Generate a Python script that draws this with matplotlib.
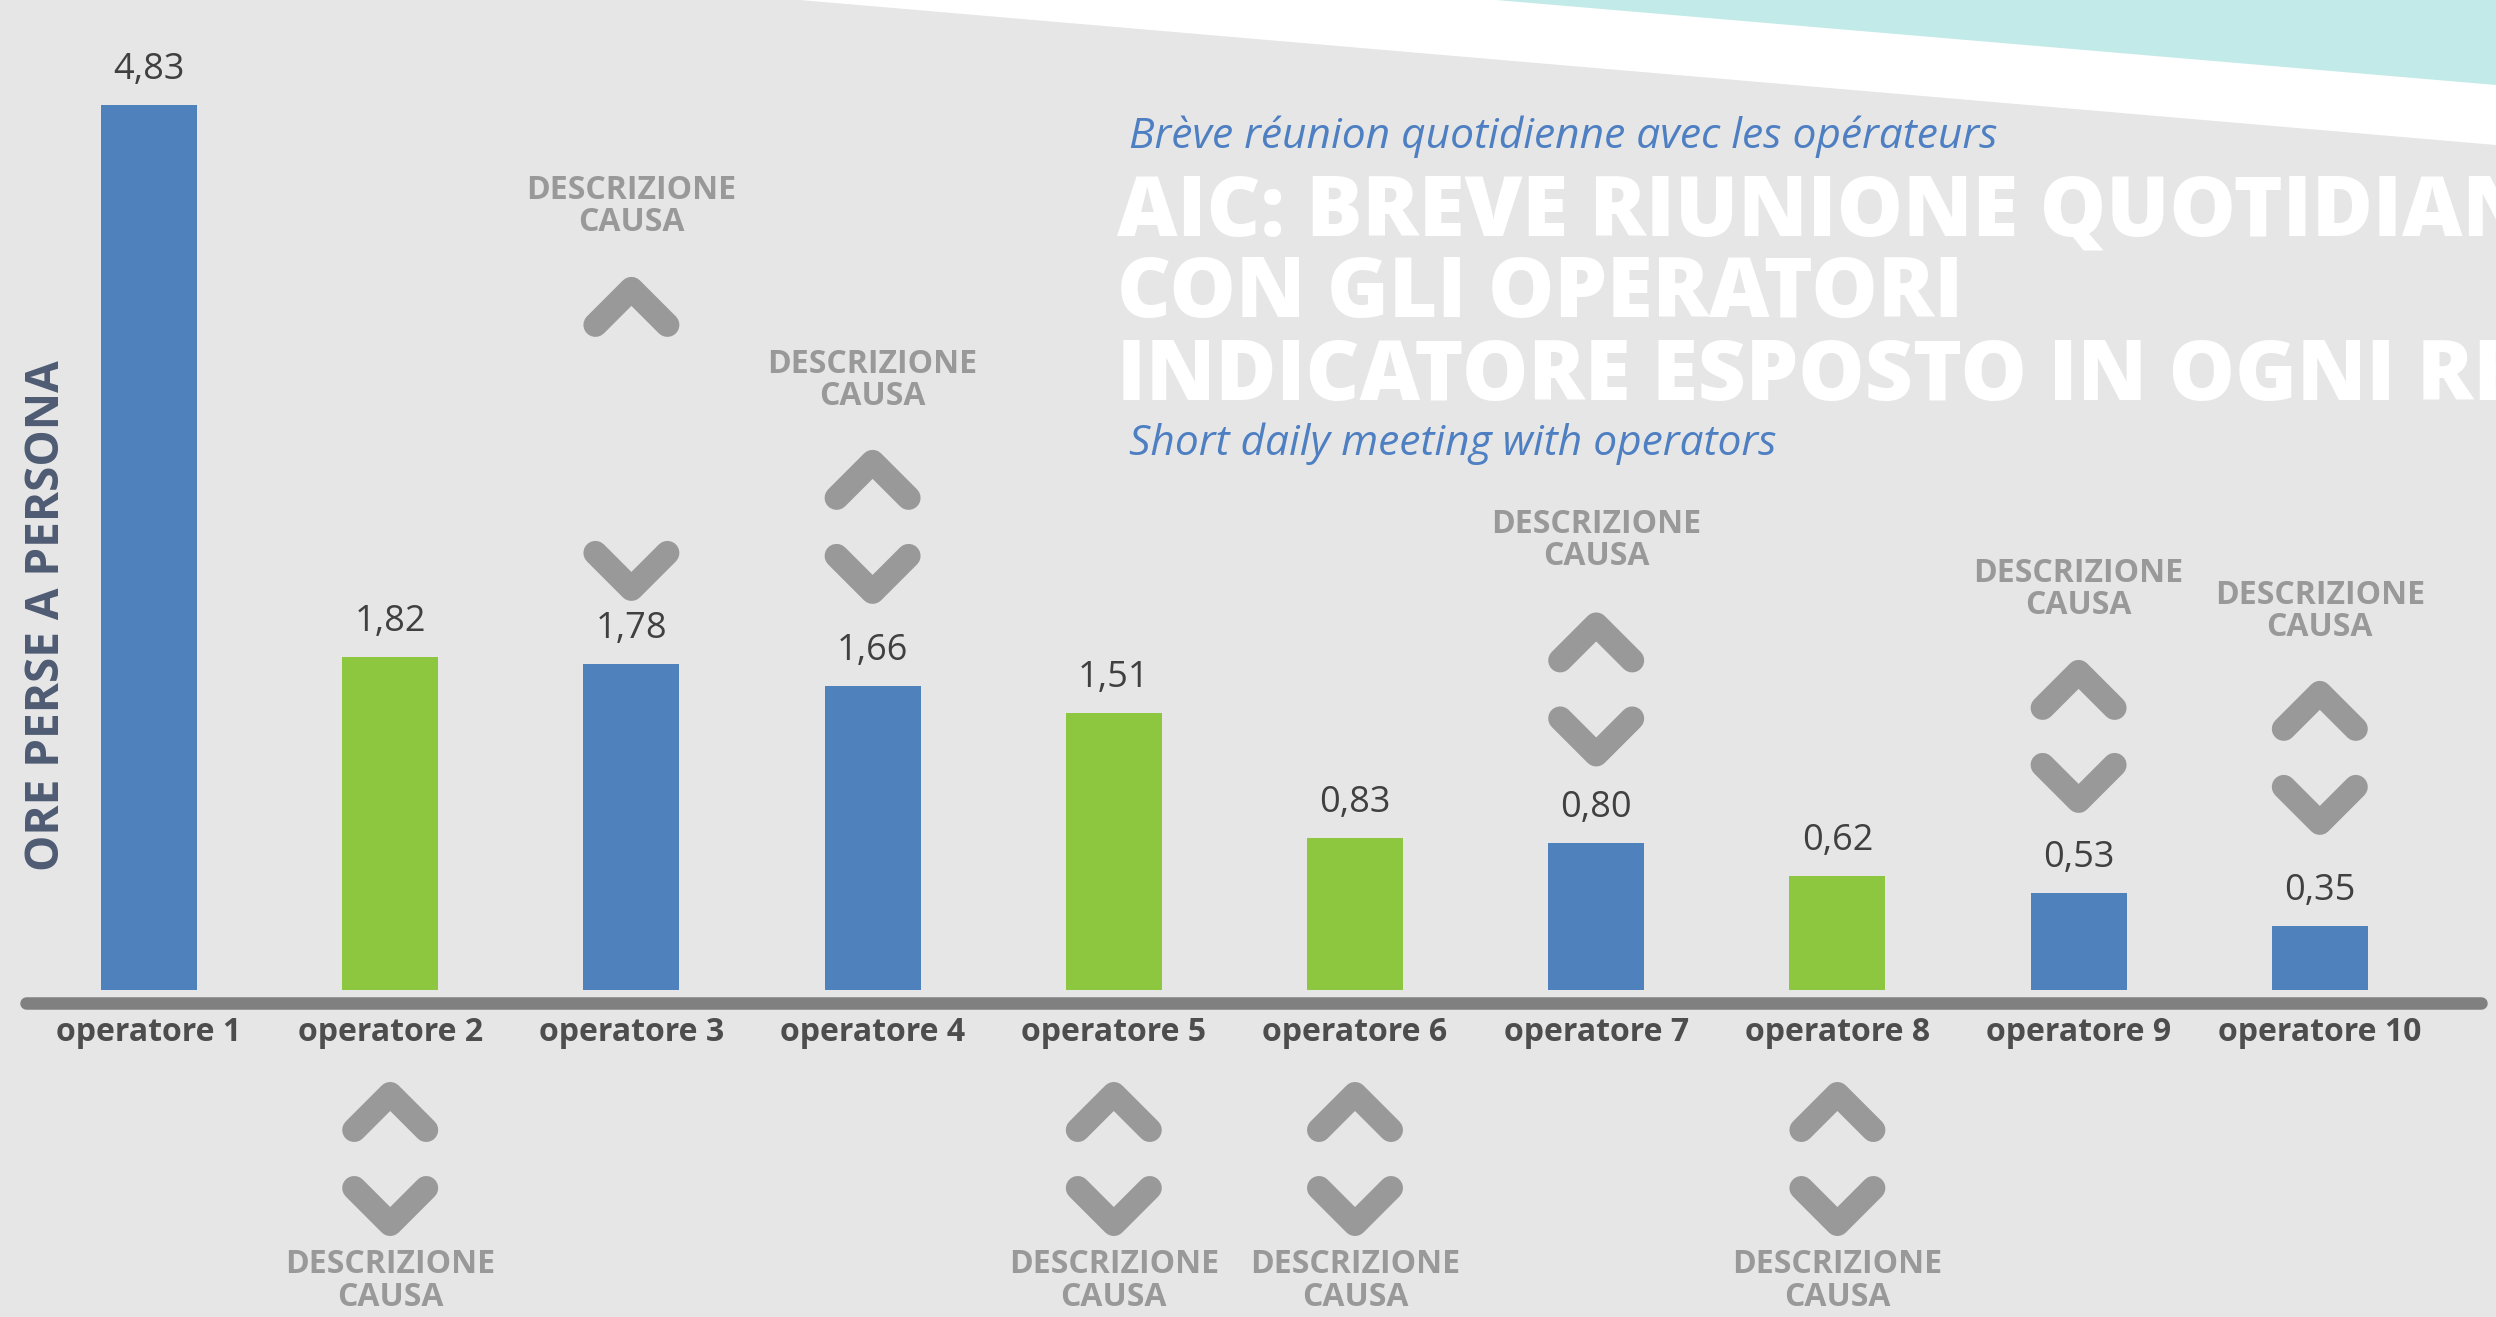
import matplotlib
matplotlib.use("Agg")
import matplotlib.pyplot as plt
from matplotlib.patches import Polygon

# ---------------- data ----------------
categories = ["operatore 1", "operatore 2", "operatore 3", "operatore 4", "operatore 5",
              "operatore 6", "operatore 7", "operatore 8", "operatore 9", "operatore 10"]
values = [4.83, 1.82, 1.78, 1.66, 1.51, 0.83, 0.80, 0.62, 0.53, 0.35]
value_labels = ["4,83", "1,82", "1,78", "1,66", "1,51", "0,83", "0,80", "0,62", "0,53", "0,35"]
bar_group = ["blue", "green", "blue", "blue", "green", "green", "blue", "green", "blue", "blue"]
note_side = ["none", "below", "above", "above", "below", "below", "above", "below", "above", "above"]
note_lines = ["DESCRIZIONE", "CAUSA"]
y_label = "ORE PERSE A PERSONA"
title_fr = "Brève réunion quotidienne avec les opérateurs"
title_it = ["AIC: BREVE RIUNIONE QUOTIDIANA", "CON GLI OPERATORI", "INDICATORE ESPOSTO IN OGNI REPARTO"]
title_en = "Short daily meeting with operators"

# ---------------- style / layout ----------------
W, H, DPI = 2496, 1317, 100
BG = "#e6e6e6"
COLORS = {"blue": "#4f81bd", "green": "#8dc63f"}
NOTE_C = "#999999"
FONT = ["Open Sans", "DejaVu Sans"]

# pixel offsets (above bar top) for the annotations placed above bars:
# (text line1 baseline, text line2 baseline, up chevron centre, down chevron centre)
above_offsets = {2: (465, 433, 357, 93),
                 3: (313, 281, 206, 112),
                 6: (310, 278, 201, 107),
                 8: (311, 279, 203, 110),
                 9: (322, 290, 215, 121)}
# offsets below the baseline (pixels) for annotations placed below the axis
below_offsets = (-283, -316, -122, -216)

X0_PX, STEP_PX = 149, 241.2      # first bar centre, spacing (pixels)
BASE_PX, UNIT_PX = 990, 183.2    # baseline row (from top), pixels per hour

fig = plt.figure(figsize=(W / DPI, H / DPI), dpi=DPI)
fig.patch.set_facecolor(BG)

# background decoration layer in pixel coordinates (origin top-left)
bg = fig.add_axes([0, 0, 1, 1])
bg.set_xlim(0, W)
bg.set_ylim(H, 0)
bg.axis("off")
bg.add_patch(Polygon([(800, 0), (W, 0), (W, 145)], closed=True, color="white", lw=0))
bg.add_patch(Polygon([(1496, 0), (W, 0), (W, 85)], closed=True, color="#c2eae8", lw=0))

# axis line
bg.plot([26, 2481], [1003, 1003], color="#808080", lw=9, solid_capstyle="round")

# titles
bg.text(1129, 148, title_fr, family=FONT, style="italic", fontsize=30.6, color="#4d7fc2", va="baseline")
for k, line in enumerate(title_it):
    bg.text(1117, 235 + 82.5 * k, line, family=FONT, fontweight=800, fontsize=60,
            color="white", va="baseline", clip_on=False)
bg.text(1129, 455, title_en, family=FONT, style="italic", fontsize=30.6, color="#4d7fc2", va="baseline")

# y label
bg.text(47, 616, y_label, family=FONT, fontweight="bold", fontsize=33, color="#4e5b73",
        rotation=90, ha="center", va="center")

# main chart axes
ax = fig.add_axes([0, 0, 1, 1])
ax.patch.set_alpha(0)
ax.axis("off")
ax.set_xlim(-X0_PX / STEP_PX, (W - X0_PX) / STEP_PX)
ax.set_ylim(-(H - BASE_PX) / UNIT_PX, BASE_PX / UNIT_PX)

xs = list(range(len(categories)))
ax.bar(xs, values, width=96 / STEP_PX, color=[COLORS[g] for g in bar_group], linewidth=0)

for i, (v, lab, cat) in enumerate(zip(values, value_labels, categories)):
    ax.annotate(lab, xy=(i, v), xytext=(0, 26), textcoords="offset pixels",
                ha="center", va="baseline", family=FONT, fontsize=26, color="#404040")
    ax.annotate(cat, xy=(i, 0), xytext=(0, -51), textcoords="offset pixels",
                ha="center", va="baseline", family=FONT, fontweight="bold", fontsize=23,
                color="#4d4d4d")


def chevron(cx, cy, up):
    """Draw a chevron centred at (cx, cy) in top-origin pixel coords on bg."""
    d = 36
    if up:
        pts_x, pts_y = [cx - d, cx, cx + d], [cy + d / 2, cy - d / 2, cy + d / 2]
    else:
        pts_x, pts_y = [cx - d, cx, cx + d], [cy - d / 2, cy + d / 2, cy - d / 2]
    bg.plot(pts_x, pts_y, color=NOTE_C, lw=17.3, solid_capstyle="round",
            solid_joinstyle="round", zorder=3)


fig.canvas.draw()
for i, side in enumerate(note_side):
    if side == "none":
        continue
    if side == "above":
        ref_v = values[i]
        t1, t2, cu, cd = above_offsets[i]
    else:
        ref_v = 0
        t1, t2, cu, cd = below_offsets
    px, py = ax.transData.transform((i, ref_v))
    py_top = H - py
    bg.text(px, py_top - t1, note_lines[0], family=FONT, fontweight="bold", fontsize=23,
            color=NOTE_C, ha="center", va="baseline")
    bg.text(px, py_top - t2, note_lines[1], family=FONT, fontweight="bold", fontsize=23,
            color=NOTE_C, ha="center", va="baseline")
    chevron(px, py_top - cu, True)
    chevron(px, py_top - cd, False)

fig.savefig("out.png", dpi=DPI, facecolor=BG)
